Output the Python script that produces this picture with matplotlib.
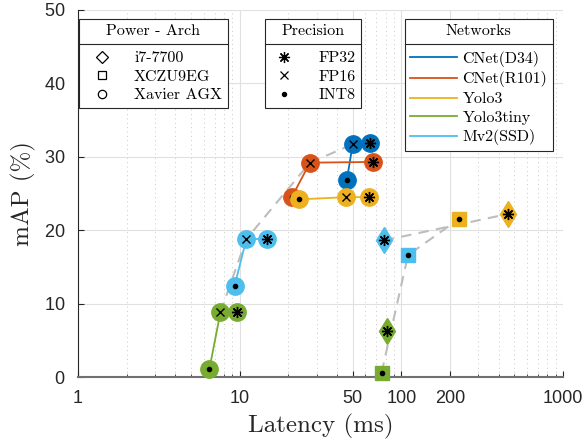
import numpy as np
import matplotlib
matplotlib.use('Agg')
import matplotlib.pyplot as plt
from matplotlib.lines import Line2D
from matplotlib.ticker import FixedLocator, NullFormatter

plt.rcParams['font.family'] = ['Liberation Sans', 'DejaVu Sans']
plt.rcParams['axes.formatter.use_mathtext'] = True
SERIF = 'cmr10'

# ---- data ----
networks = ['CNet(D34)', 'CNet(R101)', 'Yolo3', 'Yolo3tiny', 'Mv2(SSD)']
net_colors = ['#0072BD', '#D95319', '#EDB120', '#77AC30', '#4DBEEE']

devices = ['i7-7700', 'XCZU9EG', 'Xavier AGX']
precisions = ['FP32', 'FP16', 'INT8']

# Xavier AGX, one row per network, columns FP32 / FP16 / INT8
xavier_lat = [[64.0, 50.0, 46.0],
              [66.4, 27.2, 21.0],
              [63.0, 45.3, 23.4],
              [9.6, 7.6, 6.5],
              [14.8, 11.0, 9.3]]
xavier_map = [[31.9, 31.7, 26.8],
              [29.3, 29.2, 24.5],
              [24.5, 24.5, 24.2],
              [8.8, 8.8, 1.1],
              [18.8, 18.8, 12.4]]

# i7-7700 (FP32) and XCZU9EG (INT8): Yolo3, Yolo3tiny, Mv2(SSD)
other_nets = [2, 3, 4]
i7_lat = [454.0, 81.0, 78.0]
i7_map = [22.2, 6.3, 18.6]
zcu_lat = [226.0, 75.5, 110.0]
zcu_map = [21.5, 0.6, 16.6]

# dashed trend lines
xavier_front = [3, 4, 1, 0]          # FP16 points, by network index
zcu_front = [1, 2, 0]                # index into zcu arrays
i7_front = [2, 0]                    # index into i7 arrays

xticks = [1, 10, 50, 100, 200, 1000]
yticks = [0, 10, 20, 30, 40, 50]

# ---- figure ----
fig = plt.figure(figsize=(5.82, 4.44), dpi=100)
ax = fig.add_axes([78 / 582, 67 / 444, 485 / 582, 367 / 444])

prec_mk = [(8, 2, 0), 'x', '.']
prec_ms = [8, 6, 6]
axis_col = '#262626'
dash_col = '#bdbdbd'

# dashed fronts
dash = (0, (5, 3.5))
ax.plot([xavier_lat[i][1] for i in xavier_front], [xavier_map[i][1] for i in xavier_front],
        ls=dash, color=dash_col, lw=1.5, zorder=2)
ax.plot([zcu_lat[i] for i in zcu_front], [zcu_map[i] for i in zcu_front],
        ls=dash, color=dash_col, lw=1.5, zorder=2)
ax.plot([i7_lat[i] for i in i7_front], [i7_map[i] for i in i7_front],
        ls=dash, color=dash_col, lw=1.5, zorder=2)

# Xavier: solid line INT8 -> FP16 -> FP32 with big circles
for k in range(len(networks)):
    c = net_colors[k]
    ax.plot(xavier_lat[k][::-1], xavier_map[k][::-1], '-', color=c, lw=1.3, zorder=3 + k * 0.1)
for k in range(len(networks)):
    c = net_colors[k]
    for p in range(3):
        z = 4 + k * 0.1
        ax.plot(xavier_lat[k][p], xavier_map[k][p], 'o', ms=12.5, mfc=c, mec=c, zorder=z, clip_on=False)
        ax.plot(xavier_lat[k][p], xavier_map[k][p], marker=prec_mk[p], ms=prec_ms[p], color='k',
                mew=1.0, zorder=z + 0.05, clip_on=False)

# i7 (diamond, FP32) and XCZU9EG (square, INT8)
for j, k in enumerate(other_nets):
    c = net_colors[k]
    ax.plot(i7_lat[j], i7_map[j], 'd', ms=13, mfc=c, mec=c, zorder=5, clip_on=False)
    ax.plot(i7_lat[j], i7_map[j], marker=prec_mk[0], ms=prec_ms[0], color='k', mew=1.0, zorder=5.1)
    ax.plot(zcu_lat[j], zcu_map[j], 's', ms=9.5, mfc=c, mec=c, zorder=5, clip_on=False)
    ax.plot(zcu_lat[j], zcu_map[j], marker=prec_mk[2], ms=prec_ms[2], color='k', zorder=5.1, clip_on=False)

# axes
ax.set_xscale('log')
ax.set_xlim(1, 1000)
ax.set_ylim(0, 50)
ax.set_xticks(xticks)
ax.set_xticklabels([str(t) for t in xticks])
ax.xaxis.set_minor_locator(FixedLocator([m * 10 ** e for e in range(3) for m in range(2, 10)]))
ax.xaxis.set_minor_formatter(NullFormatter())
ax.set_yticks(yticks)
ax.tick_params(which='both', direction='in', colors=axis_col, labelsize=13, top=False, right=False)
ax.tick_params(which='major', length=4, width=0.8)
ax.tick_params(which='minor', length=2.5, width=0.6)
ax.tick_params(axis='x', pad=9)
ax.tick_params(axis='y', pad=9)
for s in ['top', 'right']:
    ax.spines[s].set_visible(False)
ax.spines['left'].set_color(axis_col)
ax.spines['bottom'].set_color('#707070')
ax.spines['bottom'].set_linewidth(1.5)
ax.spines['left'].set_linewidth(0.8)

ax.grid(which='major', color='#e0e0e0', lw=0.8, zorder=0)
ax.grid(which='minor', axis='x', color='#c8c8c8', lw=0.7, ls=(0, (1, 3.5)), zorder=0)
ax.set_axisbelow(True)

ax.set_xlabel('Latency (ms)', family=SERIF, fontsize=18, color=axis_col, labelpad=5)
ax.set_ylabel('mAP (%)', family=SERIF, fontsize=18, color=axis_col, labelpad=6)

# ---- legends ----
dev_mk = ['D', 's', 'o']
h_dev = [Line2D([], [], ls='none', marker=m, ms=6, mfc='none', mec='k', mew=0.9) for m in dev_mk]
h_prec = [Line2D([], [], ls='none', marker=m, ms=s, color='k', mew=0.9) for m, s in zip(prec_mk, prec_ms)]
h_net = [Line2D([], [], color=c, lw=1.3) for c in net_colors]

common = dict(frameon=True, fancybox=False, framealpha=1, edgecolor=axis_col,
              borderaxespad=0, prop={'family': SERIF, 'size': 11.5},
              title_fontproperties={'family': SERIF, 'size': 11.5},
              labelspacing=0.28, borderpad=0.35)
leg1 = ax.legend(h_dev, devices, title='Power - Arch', loc='upper left',
                 bbox_to_anchor=(0.002, 0.975), handlelength=2.2, handletextpad=0.9, **common)
ax.add_artist(leg1)
leg2 = ax.legend(h_prec, precisions, title='Precision', loc='upper left',
                 bbox_to_anchor=(0.386, 0.975), handlelength=1.6, handletextpad=1.4, **common)
ax.add_artist(leg2)
leg3 = ax.legend(h_net, networks, title='Networks', loc='upper left',
                 bbox_to_anchor=(0.674, 0.975), handlelength=2.9, handletextpad=0.35, **common)
for lg in (leg1, leg2, leg3):
    lg.get_frame().set_linewidth(0.8)
    lg.set_zorder(10)
    lg._legend_box.sep = 9   # more room under the title, like the original

fig.canvas.draw()
r = fig.canvas.get_renderer()
inv = fig.transFigure.inverted()
for lg in (leg1, leg2, leg3):
    fb = lg.get_frame().get_window_extent(r)
    tb = lg.get_title().get_window_extent(r)
    ysep = tb.y0 - 6
    (x0, y0), (x1, _) = inv.transform([(fb.x0, ysep), (fb.x1, ysep)])
    fig.add_artist(Line2D([x0, x1], [y0, y0], color=axis_col, lw=0.8, zorder=11))

fig.savefig('out.png', dpi=100)
